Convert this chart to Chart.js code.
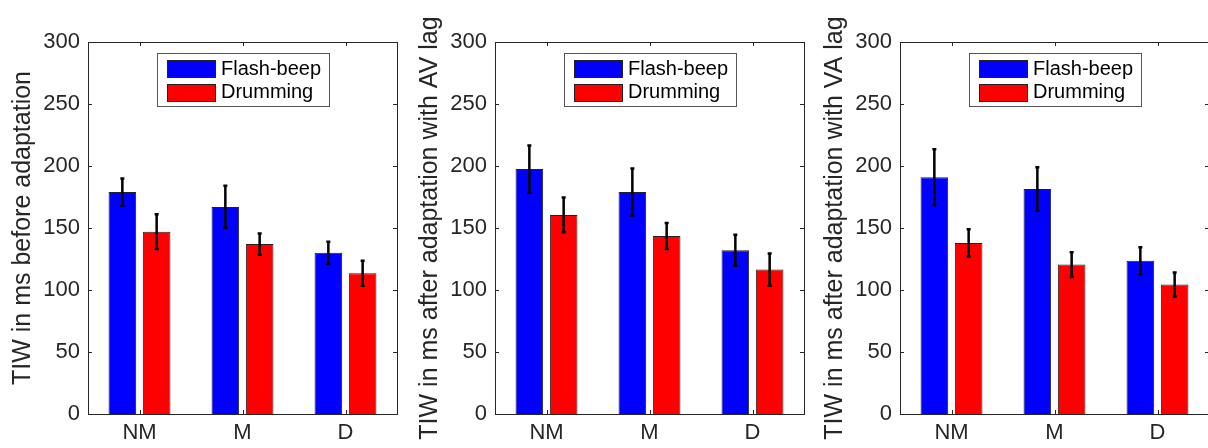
<!DOCTYPE html>
<html>
<head>
<meta charset="utf-8">
<script src="https://cdn.jsdelivr.net/npm/chart.js@4.4.1/dist/chart.umd.min.js"></script>
<style>
    html, body { margin: 0; padding: 0; background: #fff; overflow: hidden; }
    body { width: 1208px; height: 448px; position: relative; }
    canvas { position: absolute; top: 0; }
</style>
</head>
<body>
<canvas id="chartBefore" width="400" height="448" style="left:0px"></canvas>
<canvas id="chartAV" width="400" height="448" style="left:407px"></canvas>
<canvas id="chartVA" width="400" height="448" style="left:812px"></canvas>
<script>
// Groups and series names
const categories = ['NM', 'M', 'D'];
const seriesNames = ['Flash-beep', 'Drumming'];
const seriesColors = ['#0000ff', '#ff0000'];

// Y axis: 0..300 in steps of 50
const yMin = 0;
const yMax = 300;
const yStep = 50;

// Panel 1: before adaptation
const beforeFlash = [179, 167, 130];
const beforeFlashErr = [11, 17, 9];
const beforeDrum = [147, 137, 113.5];
const beforeDrumErr = [14, 8.5, 10];

// Panel 2: after adaptation with AV lag
const avFlash = [197.5, 179, 132];
const avFlashErr = [19, 19, 12.5];
const avDrum = [160.5, 143.5, 116.5];
const avDrumErr = [14, 10.5, 13];

// Panel 3: after adaptation with VA lag
const vaFlash = [191, 181.5, 123.5];
const vaFlashErr = [22.5, 17.5, 11];
const vaDrum = [138, 120.5, 104.5];
const vaDrumErr = [11, 10, 9.7];

const FONT = '"Liberation Sans", Arial, Helvetica, sans-serif';
const AXIS_COLOR = '#262626';

// Box around the axes with inward tick marks on all four sides
const framePlugin = {
    id: 'frame',
    afterDraw(chart) {
        const { ctx, chartArea: a, scales } = chart;
        const tl = 4;
        ctx.save();
        ctx.strokeStyle = AXIS_COLOR;
        ctx.lineWidth = 1;
        ctx.beginPath();
        scales.y.ticks.forEach(t => {
            const y = Math.round(scales.y.getPixelForValue(t.value)) + 0.5;
            ctx.moveTo(a.left, y); ctx.lineTo(a.left + tl, y);
            ctx.moveTo(a.right, y); ctx.lineTo(a.right - tl, y);
        });
        categories.forEach((c, i) => {
            const x = Math.round(scales.x.getPixelForValue(i)) + 0.5;
            ctx.moveTo(x, a.bottom); ctx.lineTo(x, a.bottom - tl);
            ctx.moveTo(x, a.top); ctx.lineTo(x, a.top + tl);
        });
        ctx.stroke();
        ctx.strokeRect(Math.round(a.left) + 0.5, Math.round(a.top) + 0.5,
            Math.round(a.right - a.left), Math.round(a.bottom - a.top));
        ctx.restore();
    }
};

// Error bars from each dataset's "errors" array
const errorBarPlugin = {
    id: 'errorBars',
    afterDatasetsDraw(chart) {
        const { ctx, scales } = chart;
        ctx.save();
        ctx.strokeStyle = '#000';
        ctx.lineWidth = 2.5;
        chart.data.datasets.forEach((ds, di) => {
            const meta = chart.getDatasetMeta(di);
            meta.data.forEach((bar, i) => {
                const v = ds.data[i];
                const e = ds.errors[i];
                const yTop = scales.y.getPixelForValue(v + e);
                const yBot = scales.y.getPixelForValue(v - e);
                ctx.beginPath();
                ctx.moveTo(bar.x, yTop); ctx.lineTo(bar.x, yBot);
                ctx.moveTo(bar.x - 2, yTop); ctx.lineTo(bar.x + 2, yTop);
                ctx.moveTo(bar.x - 2, yBot); ctx.lineTo(bar.x + 2, yBot);
                ctx.stroke();
            });
        });
        ctx.restore();
    }
};

// MATLAB style legend box, top centre inside the axes
const boxLegendPlugin = {
    id: 'boxLegend',
    afterDraw(chart) {
        const { ctx, chartArea: a } = chart;
        ctx.save();
        ctx.font = '20px ' + FONT;
        const textW = Math.max(...chart.data.datasets.map(d => ctx.measureText(d.label).width));
        const boxW = Math.round(64 + textW + 8);
        const boxH = 53;
        const left = Math.round((a.left + a.right) / 2 - boxW / 2);
        const top = Math.round(a.top + 11);
        ctx.fillStyle = '#fff';
        ctx.fillRect(left, top, boxW, boxH);
        ctx.strokeStyle = '#555';
        ctx.lineWidth = 1;
        ctx.strokeRect(left + 0.5, top + 0.5, boxW, boxH);
        chart.data.datasets.forEach((ds, i) => {
            const cy = top + 15 + i * 23.5;
            ctx.fillStyle = ds.backgroundColor;
            ctx.fillRect(left + 10, Math.round(cy - 8), 48, 17);
            ctx.strokeStyle = '#222';
            ctx.strokeRect(left + 10.5, Math.round(cy - 8) + 0.5, 48, 17);
            ctx.fillStyle = '#000';
            ctx.textBaseline = 'middle';
            ctx.textAlign = 'left';
            ctx.fillText(ds.label, left + 64, cy + 1);
        });
        ctx.restore();
    }
};

function makePanel(canvasId, yTitle, flash, flashErr, drum, drumErr) {
    const canvas = document.getElementById(canvasId);
    const datasets = [
        { label: seriesNames[0], data: flash, errors: flashErr },
        { label: seriesNames[1], data: drum, errors: drumErr }
    ].map((d, i) => Object.assign(d, {
        backgroundColor: seriesColors[i],
        borderColor: '#222',
        borderWidth: 1,
        categoryPercentage: 0.666,
        barPercentage: 0.805
    }));

    return new Chart(canvas.getContext('2d'), {
        type: 'bar',
        data: { labels: categories, datasets },
        options: {
            responsive: false,
            animation: false,
            devicePixelRatio: 1,
            layout: { padding: { top: 42, right: 3, left: 0, bottom: 0 } },
            plugins: {
                legend: { display: false },
                tooltip: { enabled: false }
            },
            scales: {
                x: {
                    grid: { display: false, drawTicks: false },
                    border: { display: false },
                    ticks: {
                        font: { family: FONT, size: 22 },
                        color: AXIS_COLOR,
                        padding: 6,
                        maxRotation: 0
                    },
                    afterFit(scale) { scale.height = 34; }
                },
                y: {
                    min: yMin,
                    max: yMax,
                    grid: { display: false, drawTicks: false },
                    border: { display: false },
                    ticks: {
                        stepSize: yStep,
                        font: { family: FONT, size: 22 },
                        color: AXIS_COLOR,
                        padding: 8
                    },
                    title: {
                        display: true,
                        text: yTitle,
                        font: { family: FONT, size: 25 },
                        color: AXIS_COLOR,
                        padding: { top: 8, bottom: 0 }
                    },
                    afterFit(scale) { scale.width = 88; }
                }
            }
        },
        plugins: [errorBarPlugin, framePlugin, boxLegendPlugin]
    });
}

makePanel('chartBefore', 'TIW in ms before adaptation', beforeFlash, beforeFlashErr, beforeDrum, beforeDrumErr);
makePanel('chartAV', 'TIW in ms after adaptation with AV lag', avFlash, avFlashErr, avDrum, avDrumErr);
makePanel('chartVA', 'TIW in ms after adaptation with VA lag', vaFlash, vaFlashErr, vaDrum, vaDrumErr);
</script>
</body>
</html>
